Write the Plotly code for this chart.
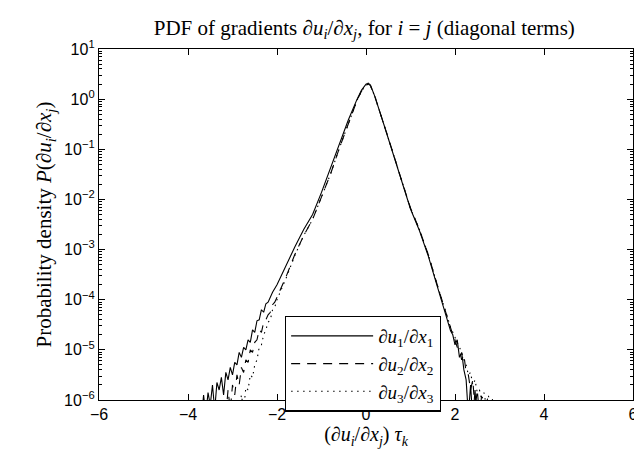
import plotly.graph_objects as go

# --- data (x = normalised gradient, values are log10 of probability density) ---
x_u1 = [-3.70, -3.65, -3.60, -3.55, -3.50, -3.45, -3.40, -3.35, -3.30, -3.25, -3.20, -3.15,
        -3.10, -3.05, -3.00, -2.95, -2.90, -2.85, -2.80, -2.75, -2.70, -2.65, -2.60, -2.55,
        -2.50, -2.45, -2.40, -2.35, -2.30, -2.25, -2.20, -2.15, -2.10,
        -2.0, -1.8, -1.6, -1.4, -1.2, -1.0, -0.8, -0.6, -0.4, -0.2, -0.1, 0.0, 0.05, 0.1,
        0.2, 0.4, 0.6, 0.8, 1.0, 1.2, 1.4, 1.6, 1.8, 1.9,
        1.95, 2.0, 2.05, 2.1, 2.15, 2.2, 2.25, 2.3, 2.35, 2.4, 2.45, 2.5]
logp_u1 = [-6.4, -5.9, -6.3, -5.85, -6.1, -5.7, -6.2, -5.65, -5.8, -5.55, -5.9, -5.45,
           -5.6, -5.35, -5.5, -5.25, -5.3, -5.05, -5.15, -4.95, -5.0, -4.8, -4.85, -4.6,
           -4.65, -4.42, -4.4, -4.2, -4.25, -4.08, -4.05, -3.95, -3.85,
           -3.7, -3.32, -2.95, -2.6, -2.3, -1.86, -1.37, -0.88, -0.42, 0.0, 0.18, 0.30, 0.32, 0.28,
           0.05, -0.5, -1.07, -1.63, -2.19, -2.62, -3.13, -3.73, -4.36, -4.62,
           -4.7, -4.9, -4.8, -5.15, -5.05, -5.4, -5.6, -6.3, -5.7, -6.4, -5.8, -6.5]

x_u2 = [-3.15, -3.10, -3.05, -3.00, -2.95, -2.90, -2.85, -2.80, -2.75, -2.70, -2.65, -2.60,
        -2.55, -2.50, -2.45, -2.40, -2.35, -2.30, -2.25, -2.20, -2.15, -2.10, -2.05, -2.00,
        -1.8, -1.6, -1.4, -1.2, -1.0, -0.8, -0.6, -0.4, -0.2, -0.1, 0.0, 0.05, 0.1,
        0.2, 0.4, 0.6, 0.8, 1.0, 1.2, 1.4, 1.6, 1.8, 1.9,
        1.95, 2.0, 2.05, 2.1, 2.15, 2.2, 2.25, 2.3, 2.35, 2.4, 2.45, 2.5, 2.55, 2.6, 2.65]
logp_u2 = [-6.3, -5.8, -6.2, -5.7, -5.9, -5.5, -5.7, -5.35, -5.45, -5.2, -5.25, -5.0,
           -5.05, -4.85, -4.8, -4.6, -4.65, -4.45, -4.4, -4.3, -4.25, -4.1, -4.05, -3.95,
           -3.55, -3.1, -2.72, -2.4, -1.95, -1.5, -0.98, -0.48, -0.02, 0.16, 0.28, 0.30, 0.27,
           0.05, -0.49, -1.05, -1.62, -2.17, -2.6, -3.1, -3.7, -4.3, -4.55,
           -4.7, -4.8, -4.95, -5.0, -5.2, -5.1, -5.45, -5.5, -5.8, -5.6, -6.2, -5.8, -6.3, -5.9, -6.5]

x_u3 = [-2.85, -2.80, -2.75, -2.70, -2.65, -2.60, -2.55, -2.50, -2.45, -2.40, -2.35, -2.30,
        -2.25, -2.20, -2.15, -2.10, -2.05, -2.00,
        -1.8, -1.6, -1.4, -1.2, -1.0, -0.8, -0.6, -0.4, -0.2, -0.1, 0.0, 0.05, 0.1,
        0.2, 0.4, 0.6, 0.8, 1.0, 1.2, 1.4, 1.6, 1.8, 1.9,
        1.95, 2.0, 2.05, 2.1, 2.15, 2.2, 2.25, 2.3, 2.35, 2.4, 2.45, 2.5, 2.55, 2.6, 2.65,
        2.7, 2.75, 2.8, 2.85, 2.9]
logp_u3 = [-6.3, -5.9, -6.2, -5.75, -5.8, -5.5, -5.55, -5.3, -5.2, -4.95, -4.9, -4.7,
           -4.6, -4.45, -4.4, -4.2, -4.15, -4.0,
           -3.58, -3.12, -2.72, -2.4, -1.95, -1.5, -0.98, -0.48, -0.02, 0.16, 0.28, 0.30, 0.27,
           0.05, -0.49, -1.05, -1.62, -2.18, -2.6, -3.1, -3.7, -4.3, -4.55,
           -4.65, -4.75, -4.85, -4.95, -5.05, -5.2, -5.3, -5.5, -5.45, -5.7, -5.6, -5.85, -5.8,
           -6.0, -5.85, -6.1, -5.9, -6.2, -5.95, -6.4]

series_names = ["<i>∂u</i><sub>1</sub>/<i>∂x</i><sub>1</sub>",
                "<i>∂u</i><sub>2</sub>/<i>∂x</i><sub>2</sub>",
                "<i>∂u</i><sub>3</sub>/<i>∂x</i><sub>3</sub>"]
series_x = [x_u1, x_u2, x_u3]
series_logp = [logp_u1, logp_u2, logp_u3]
dashes = ["solid", "9px,7px", "1.5px,4.5px"]

x_ticks = [-6, -4, -2, 0, 2, 4, 6]
y_exponents = [-6, -5, -4, -3, -2, -1, 0, 1]

SERIF = "Liberation Serif, Times New Roman, serif"
SANS = "Liberation Sans, Arial, Helvetica, sans-serif"

fig = go.Figure()
for name, xs, lp, d in zip(series_names, series_x, series_logp, dashes):
    fig.add_trace(go.Scatter(
        x=xs, y=[10 ** v for v in lp], mode="lines", name=name,
        line=dict(color="black", width=1.1, dash=d),
    ))

axis_common = dict(
    showline=True, linecolor="black", linewidth=1.3, mirror="ticks",
    ticks="inside", ticklen=6, tickcolor="black", tickwidth=1,
    showgrid=False, zeroline=False,
    tickfont=dict(family=SANS, size=16, color="black"),
)

fig.update_xaxes(
    range=[-6, 6], tickvals=x_ticks, ticktext=[str(v).replace("-", "−") for v in x_ticks],
    title=dict(text="(<i>∂u<sub>i</sub></i>/<i>∂x<sub>j</sub></i>) <i>τ<sub>k</sub></i>",
               font=dict(family=SERIF, size=20, color="black"), standoff=3),
    **axis_common,
)
fig.update_yaxes(
    type="log", range=[-6, 1],
    tickvals=[10 ** e for e in y_exponents],
    ticktext=["10<sup>" + str(e).replace("-", "−") + "</sup>" for e in y_exponents],
    minor=dict(ticks="inside", ticklen=3, tickcolor="black", dtick="D1", showgrid=False),
    title=dict(text="Probability density <i>P</i>(<i>∂u<sub>i</sub></i>/<i>∂x<sub>j</sub></i>)",
               font=dict(family=SERIF, size=21, color="black"), standoff=6),
    **axis_common,
)

fig.update_layout(
    width=642, height=453,
    margin=dict(l=91, r=12, t=41, b=61),
    paper_bgcolor="white", plot_bgcolor="white",
    title=dict(text="PDF of gradients <i>∂u<sub>i</sub></i>/<i>∂x<sub>j</sub></i>, for <i>i</i> = <i>j</i> (diagonal terms)",
               x=0.555, xanchor="center", y=0.957, yanchor="middle",
               font=dict(family=SERIF, size=21, color="black")),
    legend=dict(x=0.348, y=0.24, xanchor="left", yanchor="top",
                bgcolor="white", bordercolor="black", borderwidth=1.3,
                font=dict(family=SERIF, size=19, color="black"),
                itemwidth=82, tracegroupgap=0),
    showlegend=True,
)

fig.write_html("out.html")
